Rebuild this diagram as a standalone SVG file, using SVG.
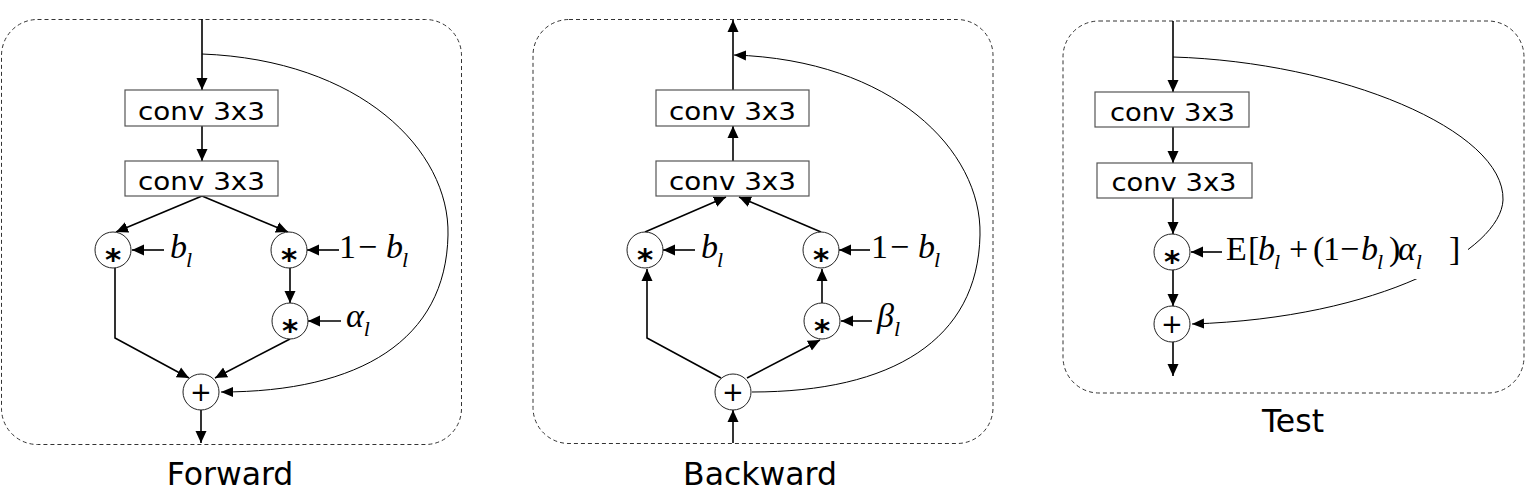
<svg xmlns="http://www.w3.org/2000/svg" width="1526" height="503" viewBox="0 0 1526 503">
<style>
.panel{fill:none;stroke:#333;stroke-width:1;stroke-dasharray:4 3}
.box{fill:#fff;stroke:#555;stroke-width:1.2}
.op{fill:#fff;stroke:#222;stroke-width:1}
.ln{fill:none;stroke:#000;stroke-width:1.6}
.cv{fill:none;stroke:#000;stroke-width:1}
.bt{font-family:"DejaVu Sans",sans-serif;font-size:25px;text-anchor:middle}
.cap{font-family:"DejaVu Sans",sans-serif;font-size:31.5px;text-anchor:middle}
.ast{font-family:"DejaVu Sans",sans-serif;font-size:31px;font-weight:bold;text-anchor:middle}
.pl{font-family:"DejaVu Sans",sans-serif;font-size:26px;text-anchor:middle}
.m{font-family:"Liberation Serif",serif;font-size:34px}
.i{font-style:italic}
.s{font-size:22px;font-style:italic}
</style>
<defs>
<marker id="ah" markerUnits="userSpaceOnUse" markerWidth="12" markerHeight="12" viewBox="0 0 12 12" refX="12" refY="6" orient="auto"><path d="M0,0.5 L12,6 L0,11.5 Z" fill="#000"/></marker>
<marker id="ahs" markerUnits="userSpaceOnUse" markerWidth="12" markerHeight="11" viewBox="0 0 12 11" refX="12" refY="5.5" orient="auto"><path d="M0,0.5 L12,5.5 L0,10.5 Z" fill="#000"/></marker>
</defs>

<g id="panels">
<rect class="panel" x="1.5" y="19.5" width="460" height="425" rx="36"/>
<rect class="panel" x="533" y="19.5" width="460" height="424" rx="36"/>
<rect class="panel" x="1063" y="21" width="461" height="372" rx="36"/>
</g>

<g id="connectors">
<!-- Forward -->
<line class="ln" x1="202" y1="19" x2="202" y2="90" marker-end="url(#ah)"/>
<line class="ln" x1="202" y1="126" x2="202" y2="161" marker-end="url(#ah)"/>
<line class="ln" x1="202" y1="196" x2="116" y2="232" marker-end="url(#ah)"/>
<line class="ln" x1="202" y1="196" x2="288" y2="232" marker-end="url(#ah)"/>
<line class="ln" x1="290" y1="268" x2="290" y2="303" marker-end="url(#ah)"/>
<polyline class="ln" points="115,268 115,338 189,378" marker-end="url(#ah)"/>
<line class="ln" x1="290" y1="339" x2="215" y2="378" marker-end="url(#ah)"/>
<line class="ln" x1="201" y1="410" x2="201" y2="443" marker-end="url(#ah)"/>
<line class="ln" x1="164" y1="250" x2="132" y2="250" marker-end="url(#ah)"/>
<line class="ln" x1="339" y1="250" x2="307" y2="250" marker-end="url(#ah)"/>
<line class="ln" x1="341" y1="321" x2="308" y2="321" marker-end="url(#ah)"/>
<path class="cv" d="M202,54 C360,60 450,150 448,235 C446,340 360,392 221,392" marker-end="url(#ahs)"/>
<!-- Backward -->
<line class="ln" x1="733" y1="90" x2="733" y2="20" marker-end="url(#ah)"/>
<line class="ln" x1="733" y1="161" x2="733" y2="126" marker-end="url(#ah)"/>
<line class="ln" x1="645" y1="232" x2="726" y2="197" marker-end="url(#ah)"/>
<line class="ln" x1="821" y1="232" x2="739" y2="197" marker-end="url(#ah)"/>
<polyline class="ln" points="721,378 647,338 647,269" marker-end="url(#ah)"/>
<line class="ln" x1="747" y1="378" x2="820" y2="340" marker-end="url(#ah)"/>
<line class="ln" x1="822" y1="303" x2="822" y2="269" marker-end="url(#ah)"/>
<line class="ln" x1="733" y1="443" x2="733" y2="410" marker-end="url(#ah)"/>
<line class="ln" x1="695" y1="250" x2="663" y2="250" marker-end="url(#ah)"/>
<line class="ln" x1="870" y1="250" x2="839" y2="250" marker-end="url(#ah)"/>
<line class="ln" x1="872" y1="321" x2="841" y2="321" marker-end="url(#ah)"/>
<path class="cv" d="M752,392 C892,392 978,340 980,235 C982,150 892,60 734,55" marker-end="url(#ahs)"/>
<!-- Test -->
<line class="ln" x1="1173" y1="21" x2="1173" y2="92" marker-end="url(#ah)"/>
<line class="ln" x1="1173" y1="127" x2="1173" y2="163" marker-end="url(#ah)"/>
<line class="ln" x1="1173" y1="198" x2="1173" y2="234" marker-end="url(#ah)"/>
<line class="ln" x1="1173" y1="270" x2="1173" y2="306" marker-end="url(#ah)"/>
<line class="ln" x1="1173" y1="342" x2="1173" y2="376" marker-end="url(#ah)"/>
<line class="ln" x1="1222" y1="252" x2="1191" y2="252" marker-end="url(#ah)"/>
<path class="cv" d="M1173,57 C1340,62 1505,130 1503,200 C1501,250 1380,318 1192,324" marker-end="url(#ahs)"/>
</g>

<g id="fwd-conv1"><rect class="box" x="125" y="90" width="153" height="36"/><text class="bt" x="201.5" y="120" textLength="127" lengthAdjust="spacingAndGlyphs">conv 3x3</text></g>
<g id="fwd-conv2"><rect class="box" x="125" y="161" width="153" height="35"/><text class="bt" x="201.5" y="190" textLength="127" lengthAdjust="spacingAndGlyphs">conv 3x3</text></g>
<g id="fwd-mul1"><circle class="op" cx="113" cy="250" r="18"/><text class="ast" x="113" y="270">*</text></g>
<g id="fwd-mul2"><circle class="op" cx="289" cy="250" r="18"/><text class="ast" x="289" y="270">*</text></g>
<g id="fwd-mul3"><circle class="op" cx="290" cy="321" r="18"/><text class="ast" x="290" y="341">*</text></g>
<g id="fwd-add"><circle class="op" cx="201" cy="392" r="18"/><text class="pl" x="201" y="401">+</text></g>
<g id="fwd-lbl-b"><text class="m" x="170" y="258"><tspan class="i">b</tspan><tspan class="s" dx="-1" dy="9">l</tspan></text></g>
<g id="fwd-lbl-1b"><text class="m" y="258"><tspan x="339">1</tspan><tspan x="358">−</tspan><tspan class="i" x="386">b</tspan><tspan class="s" dx="-1" dy="9">l</tspan></text></g>
<g id="fwd-lbl-a"><text class="m" x="346" y="327"><tspan class="i">α</tspan><tspan class="s" dx="0" dy="9">l</tspan></text></g>
<text class="cap" x="230" y="485">Forward</text>

<g id="bwd-conv1"><rect class="box" x="656" y="90" width="153" height="36"/><text class="bt" x="732.5" y="120" textLength="127" lengthAdjust="spacingAndGlyphs">conv 3x3</text></g>
<g id="bwd-conv2"><rect class="box" x="656" y="161" width="153" height="35"/><text class="bt" x="732.5" y="190" textLength="127" lengthAdjust="spacingAndGlyphs">conv 3x3</text></g>
<g id="bwd-mul1"><circle class="op" cx="645" cy="250" r="18"/><text class="ast" x="645" y="270">*</text></g>
<g id="bwd-mul2"><circle class="op" cx="821" cy="250" r="18"/><text class="ast" x="821" y="270">*</text></g>
<g id="bwd-mul3"><circle class="op" cx="822" cy="321" r="18"/><text class="ast" x="822" y="341">*</text></g>
<g id="bwd-add"><circle class="op" cx="733" cy="392" r="18"/><text class="pl" x="733" y="401">+</text></g>
<g id="bwd-lbl-b"><text class="m" x="701" y="258"><tspan class="i">b</tspan><tspan class="s" dx="-1" dy="9">l</tspan></text></g>
<g id="bwd-lbl-1b"><text class="m" y="258"><tspan x="871">1</tspan><tspan x="890">−</tspan><tspan class="i" x="918">b</tspan><tspan class="s" dx="-1" dy="9">l</tspan></text></g>
<g id="bwd-lbl-beta"><text class="m" x="877" y="327"><tspan class="i">β</tspan><tspan class="s" dx="0" dy="9">l</tspan></text></g>
<text class="cap" x="760" y="485">Backward</text>

<g id="tst-conv1"><rect class="box" x="1095" y="92" width="154" height="35"/><text class="bt" x="1172.5" y="121" textLength="125" lengthAdjust="spacingAndGlyphs">conv 3x3</text></g>
<g id="tst-conv2"><rect class="box" x="1097" y="163" width="155" height="35"/><text class="bt" x="1174" y="191" textLength="125" lengthAdjust="spacingAndGlyphs">conv 3x3</text></g>
<g id="tst-mul"><circle class="op" cx="1172" cy="252" r="18"/><text class="ast" x="1172" y="272">*</text></g>
<g id="tst-add"><circle class="op" cx="1172" cy="324" r="18"/><text class="pl" x="1172" y="333">+</text></g>
<g id="tst-lbl">
<rect x="1224" y="222" width="244" height="57" fill="#fff"/>
<text class="m" y="260"><tspan x="1226">E</tspan><tspan x="1248">[</tspan><tspan class="i" x="1258">b</tspan><tspan class="s" dx="-1" dy="9">l</tspan><tspan x="1289" dy="-9">+</tspan><tspan x="1313">(</tspan><tspan x="1323">1</tspan><tspan x="1340">−</tspan><tspan class="i" x="1361">b</tspan><tspan class="s" dx="-1" dy="9">l</tspan><tspan x="1389" dy="-9">)</tspan><tspan class="i" x="1398">α</tspan><tspan class="s" dy="9">l</tspan><tspan x="1449" dy="-9">]</tspan></text>
</g>
<text class="cap" x="1293" y="432">Test</text>
</svg>
